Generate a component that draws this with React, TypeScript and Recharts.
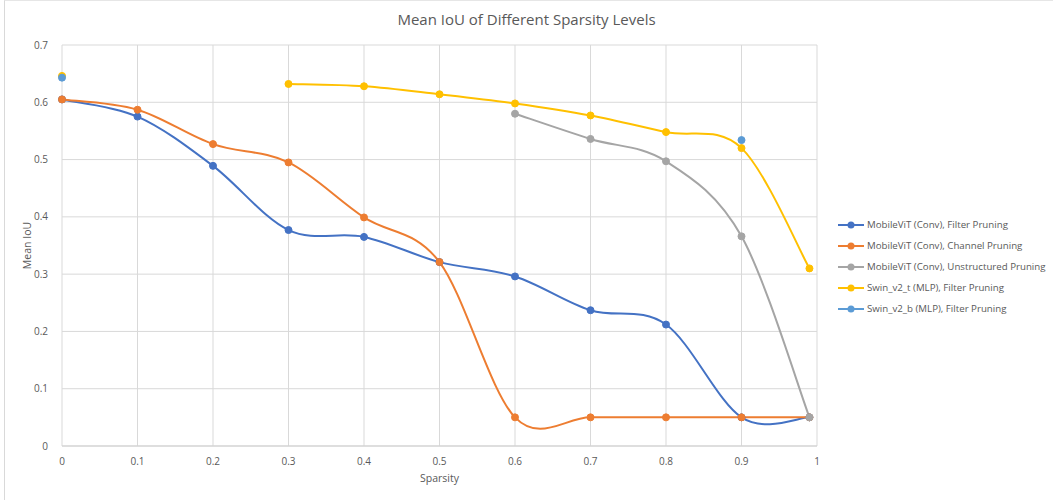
import React from 'react';
import { LineChart, Line, XAxis, YAxis, CartesianGrid, Label } from 'recharts';

const sparsity = [0, 0.1, 0.2, 0.3, 0.4, 0.5, 0.6, 0.7, 0.8, 0.9, 0.99];
const mobileFilter = [0.605, 0.575, 0.489, 0.377, 0.365, 0.321, 0.296, 0.237, 0.212, 0.05, 0.05];
const mobileChannel = [0.605, 0.587, 0.527, 0.495, 0.399, 0.321, 0.05, 0.05, 0.05, 0.05, 0.05];
const mobileUnstructured = [null, null, null, null, null, null, 0.58, 0.536, 0.497, 0.366, 0.05];
const swinT = [0.646, null, null, 0.632, 0.628, 0.614, 0.598, 0.577, 0.548, 0.52, 0.31];
const swinB = [0.643, null, null, null, null, null, null, null, null, 0.534, null];

const xTicks = [0, 0.1, 0.2, 0.3, 0.4, 0.5, 0.6, 0.7, 0.8, 0.9, 1];
const yTicks = [0, 0.1, 0.2, 0.3, 0.4, 0.5, 0.6, 0.7];

const seriesNames = [
  'MobileViT (Conv), Filter Pruning',
  'MobileViT (Conv), Channel Pruning',
  'MobileViT (Conv), Unstructured Pruning',
  'Swin_v2_t (MLP), Filter Pruning',
  'Swin_v2_b (MLP), Filter Pruning',
];
const seriesKeys = ['s0', 's1', 's2', 's3', 's4'];
const seriesColors = ['#4472C4', '#ED7D31', '#A5A5A5', '#FFC000', '#5B9BD5'];
const seriesValues = [mobileFilter, mobileChannel, mobileUnstructured, swinT, swinB];

const data = sparsity.map((x, i) => {
  const row: any = { x };
  seriesKeys.forEach((k, j) => {
    row[k] = seriesValues[j][i];
  });
  return row;
});

// Excel-like smoothed line (Catmull-Rom as cubic Bezier)
function excelCurve(context: any) {
  let pts: number[][] = [];
  return {
    areaStart() {},
    areaEnd() {},
    lineStart() {
      pts = [];
    },
    lineEnd() {
      if (pts.length === 0) return;
      context.moveTo(pts[0][0], pts[0][1]);
      if (pts.length === 1) {
        context.lineTo(pts[0][0], pts[0][1]);
        return;
      }
      for (let i = 0; i < pts.length - 1; i++) {
        const p1 = pts[i];
        const p2 = pts[i + 1];
        const p0 = i > 0 ? pts[i - 1] : p1;
        const p3 = i + 2 < pts.length ? pts[i + 2] : p2;
        context.bezierCurveTo(
          p1[0] + (p2[0] - p0[0]) / 6,
          p1[1] + (p2[1] - p0[1]) / 6,
          p2[0] - (p3[0] - p1[0]) / 6,
          p2[1] - (p3[1] - p1[1]) / 6,
          p2[0],
          p2[1]
        );
      }
    },
    point(x: number, y: number) {
      pts.push([+x, +y]);
    },
  };
}

const FONT = "'Open Sans', 'Noto Sans', sans-serif";
const TXT = '#595959';

export default function App() {
  return (
    <div style={{ position: 'absolute', left: 0, top: 0, width: 1053, height: 500, background: '#fff', fontFamily: FONT }}>
      <div style={{ position: 'absolute', left: 4, top: 0, width: 1049, height: 500, borderLeft: '1px solid #d9d9d9', borderTop: '1px solid #e6e6e6', boxSizing: 'border-box' }} />
      <div style={{ position: 'absolute', left: 0, top: 9, width: 1053, textAlign: 'center', fontSize: 15, color: TXT, fontFamily: FONT }}>
        Mean IoU of Different Sparsity Levels
      </div>
      <div style={{ position: 'absolute', left: 0, top: 0 }}>
        <LineChart width={1053} height={500} data={data} margin={{ top: 45, right: 236, bottom: 24, left: 0 }}>
          <CartesianGrid stroke="#d9d9d9" strokeWidth={1} horizontalValues={yTicks} verticalValues={xTicks} />
          <XAxis
            dataKey="x"
            type="number"
            domain={[0, 1]}
            ticks={xTicks}
            interval={0}
            height={30}
            tickLine={false}
            axisLine={{ stroke: '#d0d0d0' }}
            tick={{ fill: TXT, fontSize: 10, fontFamily: FONT }}
            tickMargin={6}
          >
            <Label value="Sparsity" position="insideBottom" offset={-6} style={{ fill: TXT, fontSize: 10.5, fontFamily: FONT }} />
          </XAxis>
          <YAxis
            type="number"
            domain={[0, 0.7]}
            ticks={yTicks}
            interval={0}
            width={62}
            tickLine={false}
            axisLine={false}
            tick={{ fill: TXT, fontSize: 10, fontFamily: FONT }}
            tickMargin={8}
          >
            <Label value="Mean IoU" angle={-90} position="insideLeft" offset={27} style={{ fill: TXT, fontSize: 10.5, fontFamily: FONT, textAnchor: 'middle' }} />
          </YAxis>
          {seriesKeys.map((k, j) => (
            <Line
              key={k}
              dataKey={k}
              name={seriesNames[j]}
              type={excelCurve as any}
              stroke={seriesColors[j]}
              strokeWidth={2}
              dot={{ r: 3.5, fill: seriesColors[j], stroke: seriesColors[j], strokeWidth: 1 }}
              activeDot={false}
              connectNulls={false}
              isAnimationActive={false}
            />
          ))}
        </LineChart>
      </div>
      <div style={{ position: 'absolute', left: 837, top: 214 }}>
        {seriesNames.map((n, j) => (
          <div key={n} style={{ display: 'flex', alignItems: 'center', height: 21, whiteSpace: 'nowrap' }}>
            <svg width={28} height={10} style={{ marginRight: 2 }}>
              <line x1={1} y1={5} x2={27} y2={5} stroke={seriesColors[j]} strokeWidth={2} />
              <circle cx={14} cy={5} r={3.5} fill={seriesColors[j]} />
            </svg>
            <span style={{ fontSize: 9.7, color: TXT, fontFamily: FONT }}>{n}</span>
          </div>
        ))}
      </div>
    </div>
  );
}
